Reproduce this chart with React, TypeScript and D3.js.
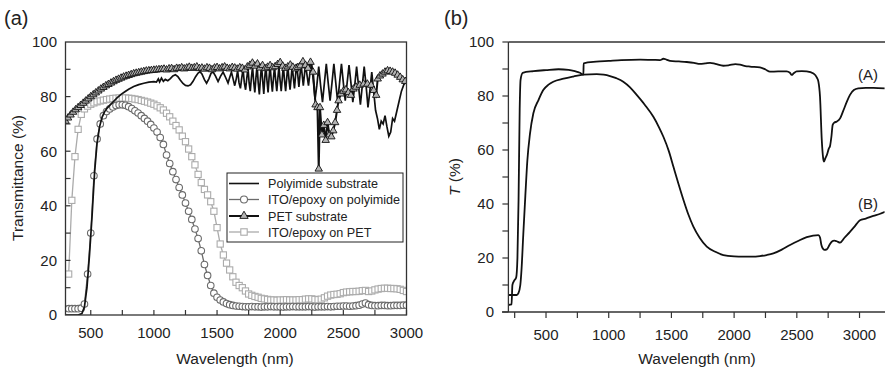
import React from 'react';
import * as d3 from 'd3';

const W = 885;
const H = 374;
const FONT = '"Liberation Sans", Arial, Helvetica, sans-serif';

// ---------- Panel (a) data ----------
const itoWl = [325,350,375,400,425,450,475,500,525,550,575,600,625,650,675,700,725,750,775,800,825,850,875,900,925,950,975,1000,1025,1050,1075,1100,1125,1150,1175,1200,1225,1250,1275,1300,1325,1350,1375,1400,1425,1450,1475,1500,1525,1550,1575,1600,1625,1650,1675,1700,1725,1750,1775,1800,1825,1850,1875,1900,1925,1950,1975,2000,2025,2050,2075,2100,2125,2150,2175,2200,2225,2250,2275,2300,2325,2350,2375,2400,2425,2450,2475,2500,2525,2550,2575,2600,2625,2650,2675,2700,2725,2750,2775,2800,2825,2850,2875,2900,2925,2950,2975,3000];

const itoPolyimideT = [2.3,2.3,2.3,2.3,2.5,4,15,30,51,64.5,70,73,74.5,75.5,76.2,76.7,77,77,76.8,76.3,75.6,74.8,74,73,72,71,69.8,68.5,67,65,62.5,58.6,55.5,52.5,49.6,46.7,44,41,38,35,31.5,28,23.5,18.5,14.5,10.8,8,6.5,5.5,4.8,4.2,3.8,3.5,3.3,3.2,3.1,
3.0,3.0,3.1,3.0,3.0,2.9,3.0,3.0,3.1,3.0,3.0,3.0,2.9,3.0,3.0,3.1,3.0,3.0,3.0,3.0,3.1,3.0,2.9,3.0,3.0,3.0,3.1,3.0,
3.1,3.2,3.2,3.3,3.3,3.2,3.3,3.4,
3.6,4.0,4.4,3.8,
3.5,3.4,3.4,3.5,3.5,3.4,3.4,3.5,3.5,3.5,3.6,3.6];

const itoPetT = [15,42,58,68,73.5,75.5,76.5,77.2,77.7,78.1,78.4,78.7,78.9,79.1,79.3,79.4,79.5,79.5,79.5,79.4,79.3,79.1,78.9,78.6,78.3,78,77.6,77.2,76.6,75.9,75.1,73.9,72.6,71,69.4,67.8,65.5,63.5,60.8,58,55,51.5,48.5,46,44,41.5,38,32,26,22,19,16.5,14,12,10.8,10,
8.8,7.7,7.2,6.8,6.5,6.1,5.9,5.7,
5.5,5.5,5.4,5.5,5.5,5.6,5.5,5.5,5.5,5.6,
5.6,5.8,5.9,5.9,5.7,5.6,5.8,6.3,6.9,7.3,
7.5,7.6,7.8,8.2,8.4,8.5,8.6,8.6,8.7,8.9,9.0,8.6,
8.8,9.2,9.5,9.7,9.8,9.8,9.7,9.7,9.6,9.4,9.0,8.6];

const polyimide: [number, number][] = [[300,0],[400,0],[430,0.5],[450,3],[470,10],[490,22],[510,36],[530,52],[550,63],[570,69],[590,72.5],[610,74.5],[630,75.8],[650,76.8],[680,78.2],[710,79.6],[740,80.8],[770,81.8],[800,82.7],[840,83.7],[880,84.4],[920,84.9],[960,85.3],[1000,85.5],[1020,85.3],[1035,86.5],[1045,85.4],[1060,86.8],[1075,85.6],[1090,86.3],[1110,85.8],[1130,86.6],[1150,87.6],[1170,88],[1190,87.3],[1210,86],[1230,84.8],[1250,84.1],[1270,83.9],[1290,84.3],[1310,85.6],[1330,87.3],[1350,88.6],[1365,89.1],[1380,88.3],[1400,86.2],[1417,84.9],[1435,86.5],[1452,88.5],[1469,89],[1488,87.5],[1508,85.5],[1528,87.5],[1548,89],[1568,87],[1587,85],[1600,87],[1614,89],[1627,86.5],[1640,84],[1652,86.5],[1663,89.5],[1674,85],[1685,83],[1696,87],[1706,90],[1716,85],[1726,82.5],[1736,87],[1745,90.5],[1754,85],[1763,82],[1772,87],[1781,91],[1790,85.5],[1799,81.5],[1808,87],[1817,91.5],[1826,85],[1835,80.8],[1844,87],[1852,91.5],[1861,86],[1870,81],[1878,87],[1886,91.5],[1895,86],[1904,81.5],[1912,87],[1920,91.5],[1929,86],[1938,81.8],[1947,87],[1955,91],[1964,86],[1973,82],[1982,87],[1990,91],[1999,86],[2008,82],[2017,87],[2025,91.5],[2034,86],[2043,82],[2052,87],[2060,91.5],[2069,86.5],[2078,82.5],[2087,87],[2095,91.5],[2104,87],[2113,83],[2122,88],[2130,92],[2139,88],[2148,83.5],[2157,88],[2165,92],[2174,88],[2183,84],[2192,88],[2200,92],[2212,88],[2224,84],[2236,89],[2248,92],[2262,86],[2276,79],[2290,84],[2305,91],[2320,84],[2335,78],[2350,85],[2365,92],[2380,85],[2395,78.5],[2410,85],[2425,92],[2440,85],[2455,78],[2470,85],[2485,92],[2500,85],[2515,78.5],[2530,85],[2545,91.5],[2560,85],[2575,78],[2590,84],[2605,91],[2620,84],[2635,77],[2650,84],[2665,91],[2680,84],[2695,76],[2710,82],[2725,89],[2740,82],[2755,75],[2770,72],[2785,68],[2800,71],[2815,70],[2830,73],[2845,69],[2860,65.5],[2875,67],[2890,72],[2905,71],[2920,74],[2940,78],[2960,82],[2980,84.5],[3000,85.5]];

const pet: [number, number][] = [[300,71],[320,72.2],[340,73.3],[360,74.3],[380,75.2],[400,76],[420,76.8],[440,77.6],[460,78.4],[480,79.2],[500,80],[520,80.7],[540,81.4],[560,82.1],[580,82.8],[600,83.4],[620,84],[640,84.5],[660,85],[680,85.5],[700,86],[720,86.4],[740,86.8],[760,87.2],[780,87.5],[800,87.8],[820,88.1],[840,88.4],[860,88.6],[880,88.8],[900,89],[920,89.2],[940,89.4],[960,89.5],[980,89.6],[1000,89.7],[1020,89.8],[1040,89.9],[1060,90],[1080,90.1],[1100,89.8],[1120,90.2],[1140,90.3],[1160,89.9],[1180,90.4],[1200,90.3],[1220,90.6],[1240,90.2],[1260,90.5],[1280,90.8],[1300,90.4],[1320,90.6],[1340,90.9],[1360,90.3],[1380,90.5],[1400,90.1],[1420,90.6],[1440,90.4],[1460,89.9],[1480,90.5],[1500,90.7],[1520,90.2],[1540,90.6],[1560,90.9],[1580,90.4],[1600,90.2],[1620,90.7],[1640,90.5],[1660,90.1],[1680,90.6],[1700,90.4],[1720,89.8],[1740,90.9],[1760,91.5],[1780,92.3],[1800,91.2],[1820,92],[1840,90.5],[1860,91.4],[1880,90.3],[1900,90.8],[1920,91.4],[1940,90.6],[1960,91],[1980,91.8],[2000,92.5],[2020,91.2],[2040,90.4],[2060,90.9],[2080,91.6],[2100,90.8],[2120,90.2],[2140,90.7],[2160,91.3],[2180,92.8],[2200,91.5],[2220,90.4],[2240,92.6],[2260,89],[2280,77],[2295,76],[2305,53.5],[2315,76],[2330,66],[2345,69.5],[2360,64],[2375,70.5],[2390,66],[2405,65.3],[2420,67.5],[2435,70.5],[2450,75],[2462,78.5],[2480,81],[2500,82],[2520,82.5],[2540,81.5],[2560,80.5],[2580,82.8],[2600,83.5],[2630,84.2],[2660,84.6],[2690,84.6],[2720,84.2],[2740,82.3],[2760,80.5],[2772,86.5],[2790,87.6],[2810,88.3],[2830,89],[2850,89.5],[2870,89.3],[2890,89],[2910,88.6],[2930,87.9],[2950,87.1],[2970,86.2],[2990,85.6]];

const legendLabels = ['Polyimide substrate', 'ITO/epoxy on polyimide', 'PET substrate', 'ITO/epoxy on PET'];
const aXTicks = [500, 1000, 1500, 2000, 2500, 3000];
const aXMinor = [500, 750, 1000, 1250, 1500, 1750, 2000, 2250, 2500, 2750, 3000];
const aYTicks = [0, 20, 40, 60, 80, 100];
const aYMinor = [10, 20, 30, 40, 50, 60, 70, 80, 90];

// ---------- Panel (b) data ----------
const curveA: [number, number][] = [[200,2.6],[225,2.8],[232,10],[245,11.5],[262,12.8],[272,20],[281,41.5],[290,75],[297,86],[314,88.6],[400,89.2],[500,89.6],[600,89.9],[680,89.7],[730,89.2],[770,88.6],[798,87.9],[800,92.1],[900,92.7],[1000,93],[1100,93.3],[1250,93.5],[1350,93.4],[1409,93.3],[1436,93.8],[1460,93.5],[1489,93],[1560,92.8],[1622,92.6],[1680,92.3],[1728,91.9],[1770,92.1],[1808,92.3],[1850,91.9],[1914,91.2],[1960,91.4],[2010,91.8],[2047,91.6],[2090,91.1],[2127,90.9],[2206,90.6],[2250,89.8],[2286,89],[2350,89.1],[2419,89.1],[2445,88.6],[2459,87.8],[2475,88.4],[2499,89.1],[2540,89.2],[2579,89.1],[2633,88.3],[2660,86.8],[2672,85.3],[2685,79.7],[2699,63.7],[2710,57],[2717,55.7],[2728,57],[2739,58.1],[2755,60.5],[2765,61.5],[2776,65],[2786,69.3],[2800,70.2],[2818,70.5],[2845,71.7],[2870,74.5],[2900,78],[2924,80.4],[2955,82.2],[2990,82.8],[3050,83],[3110,83],[3203,82.8]];

const curveB: [number, number][] = [[200,6.3],[266,6.3],[280,7],[295,10],[305,16],[319,29],[335,43],[351,56],[372,66],[399,73.6],[440,78.5],[478,82.2],[520,84.2],[558,85.3],[640,86.4],[718,87.2],[797,87.9],[904,88.1],[960,87.9],[1010,87.4],[1060,86.6],[1116,85.3],[1170,83.2],[1223,80.4],[1290,76.6],[1356,72.3],[1400,68.5],[1436,64.9],[1480,59.5],[1516,53.8],[1556,47.5],[1596,41.5],[1636,36],[1675,31.6],[1725,27.5],[1782,24.2],[1850,22.3],[1914,21.1],[2000,20.6],[2074,20.5],[2140,20.5],[2206,20.7],[2260,21.1],[2313,21.7],[2380,23.1],[2446,24.8],[2510,26.3],[2579,27.7],[2630,28.3],[2672,28.5],[2685,27.6],[2695,25],[2706,23.6],[2720,23],[2739,23.2],[2760,24.8],[2778,26],[2800,26.4],[2818,26.2],[2845,25.7],[2880,27.5],[2924,29.7],[2960,31.6],[2990,33.4],[3004,34],[3050,34.6],[3110,35.6],[3160,36.3],[3203,37.1]];

const bXTicks = [500, 1000, 1500, 2000, 2500, 3000];
const bXMinor = [250, 500, 750, 1000, 1250, 1500, 1750, 2000, 2250, 2500, 2750, 3000];
const bYTicks = [0, 20, 40, 60, 80, 100];
const bYMinor = [0, 10, 20, 30, 40, 50, 60, 70, 80, 90, 100];

const TXT = '#222';
const CIRCLE_C = '#6b6b6b';
const SQUARE_C = '#ababab';

export default function App() {
  const xL = d3.scaleLinear().domain([300, 3000]).range([65.5, 406.5]);
  const yL = d3.scaleLinear().domain([0, 100]).range([315, 42]);
  const xR = d3.scaleLinear().domain([200, 3200]).range([508.4, 884.6]);
  const yR = d3.scaleLinear().domain([0, 100]).range([312, 42]);

  const lineL = d3.line<[number, number]>().x(d => xL(d[0])).y(d => yL(d[1]));
  const lineR = d3.line<[number, number]>().x(d => xR(d[0])).y(d => yR(d[1])).curve(d3.curveMonotoneX);

  const circlesData: [number, number][] = itoWl.map((w, i) => [w, itoPolyimideT[i]]);
  const squaresData: [number, number][] = itoWl.map((w, i) => [w, itoPetT[i]]);
  const tri = d3.symbol().type(d3.symbolTriangle).size(24)() as string;
  const triLegend = d3.symbol().type(d3.symbolTriangle).size(30)() as string;

  const x0 = xL.range()[0], x1 = xL.range()[1];
  const y0 = yL.range()[0], y1 = yL.range()[1];

  const legX = 227, legY = 173, legW = 176, legH = 69;
  const legRows = [183.5, 199.5, 216, 232];

  return (
    <svg width={W} height={H} viewBox={`0 0 ${W} ${H}`} style={{ position: 'absolute', left: 0, top: 0, background: '#fff' }} fontFamily={FONT}>
      <defs>
        <clipPath id="clipA"><rect x={x0} y={y1} width={x1 - x0} height={y0 - y1} /></clipPath>
        <clipPath id="clipB"><rect x={xR.range()[0]} y={yR.range()[1]} width={xR.range()[1] - xR.range()[0]} height={yR.range()[0] - yR.range()[1]} /></clipPath>
      </defs>
      <rect x={0} y={0} width={W} height={H} fill="#fff" />

      {/* ===== Panel (a) ===== */}
      <text x={4} y={25} fontSize={20} fill={TXT}>(a)</text>
      <g clipPath="url(#clipA)">
        <path d={lineL(squaresData) || ''} fill="none" stroke={SQUARE_C} strokeWidth={1.3} />
        {squaresData.map((d, i) => (
          <rect key={'s' + i} x={xL(d[0]) - 3.1} y={yL(d[1]) - 3.1} width={6.2} height={6.2} fill="#fff" stroke={SQUARE_C} strokeWidth={1.1} />
        ))}
        <path d={lineL(circlesData) || ''} fill="none" stroke={CIRCLE_C} strokeWidth={1.3} />
        {circlesData.map((d, i) => (
          <circle key={'c' + i} cx={xL(d[0])} cy={yL(d[1])} r={3.3} fill="#fff" stroke={CIRCLE_C} strokeWidth={1.1} />
        ))}
        <path d={lineL(polyimide) || ''} fill="none" stroke="#111" strokeWidth={1.7} />
        <path d={lineL(pet) || ''} fill="none" stroke="#111" strokeWidth={2} />
        {pet.map((d, i) => (
          <path key={'t' + i} d={tri} transform={`translate(${xL(d[0])},${yL(d[1])})`} fill="#b3b3b3" stroke="#111" strokeWidth={0.9} />
        ))}
      </g>
      {/* frame */}
      <rect x={x0} y={y1} width={x1 - x0} height={y0 - y1} fill="none" stroke="#333" strokeWidth={1.3} />
      {aXMinor.map(t => (
        <line key={'ax' + t} x1={xL(t)} x2={xL(t)} y1={y0} y2={y0 - 5} stroke="#333" strokeWidth={1.2} />
      ))}
      {aYMinor.map(t => (
        <line key={'ay' + t} x1={x0} x2={x0 + 5} y1={yL(t)} y2={yL(t)} stroke="#333" strokeWidth={1.2} />
      ))}
      {aXTicks.map(t => (
        <text key={'axl' + t} x={xL(t)} y={337.5} fontSize={15} textAnchor="middle" fill={TXT}>{t}</text>
      ))}
      {aYTicks.map(t => (
        <text key={'ayl' + t} x={57} y={yL(t)} dy="0.36em" fontSize={15} textAnchor="end" fill={TXT}>{t}</text>
      ))}
      <text x={235} y={364} fontSize={15.5} textAnchor="middle" fill={TXT}>Wavelength (nm)</text>
      <text transform={`translate(23,178) rotate(-90)`} fontSize={15.5} textAnchor="middle" fill={TXT}>Transmittance (%)</text>

      {/* legend */}
      <rect x={legX} y={legY} width={legW} height={legH} fill="#fff" stroke="#222" strokeWidth={1} />
      <line x1={229} x2={259} y1={legRows[0]} y2={legRows[0]} stroke="#111" strokeWidth={1.6} />
      <line x1={229} x2={259} y1={legRows[1]} y2={legRows[1]} stroke={CIRCLE_C} strokeWidth={1.3} />
      <circle cx={244} cy={legRows[1]} r={3.5} fill="#fff" stroke={CIRCLE_C} strokeWidth={1.1} />
      <line x1={229} x2={259} y1={legRows[2]} y2={legRows[2]} stroke="#111" strokeWidth={2} />
      <path d={triLegend} transform={`translate(244,${legRows[2]})`} fill="#b3b3b3" stroke="#111" strokeWidth={0.9} />
      <line x1={229} x2={259} y1={legRows[3]} y2={legRows[3]} stroke={SQUARE_C} strokeWidth={1.3} />
      <rect x={244 - 3.2} y={legRows[3] - 3.2} width={6.4} height={6.4} fill="#fff" stroke={SQUARE_C} strokeWidth={1.1} />
      {legendLabels.map((l, i) => (
        <text key={'lg' + i} x={268} y={legRows[i]} dy="0.36em" fontSize={12.6} fill={TXT}>{l}</text>
      ))}

      {/* ===== Panel (b) ===== */}
      <text x={444} y={25} fontSize={20} fill={TXT}>(b)</text>
      <g clipPath="url(#clipB)">
        <path d={lineR(curveA) || ''} fill="none" stroke="#111" strokeWidth={1.8} />
        <path d={lineR(curveB) || ''} fill="none" stroke="#111" strokeWidth={1.8} />
      </g>
      <line x1={xR.range()[0]} x2={xR.range()[0]} y1={yR.range()[1]} y2={yR.range()[0]} stroke="#333" strokeWidth={1.3} />
      <line x1={502} x2={W} y1={yR.range()[0]} y2={yR.range()[0]} stroke="#333" strokeWidth={1.3} />
      <line x1={xR.range()[0]} x2={W} y1={yR.range()[1]} y2={yR.range()[1]} stroke="#333" strokeWidth={1.3} />
      {bXMinor.map(t => (
        <line key={'bx' + t} x1={xR(t)} x2={xR(t)} y1={yR.range()[0]} y2={yR.range()[0] + 6} stroke="#333" strokeWidth={1.2} />
      ))}
      {bYMinor.map(t => (
        <line key={'by' + t} x1={xR.range()[0] - 6} x2={xR.range()[0]} y1={yR(t)} y2={yR(t)} stroke="#333" strokeWidth={1.2} />
      ))}
      {bXTicks.map(t => (
        <text key={'bxl' + t} x={xR(t)} y={340} fontSize={15} textAnchor="middle" fill={TXT}>{t}</text>
      ))}
      {bYTicks.map(t => (
        <text key={'byl' + t} x={494} y={yR(t)} dy="0.36em" fontSize={15} textAnchor="end" fill={TXT}>{t}</text>
      ))}
      <text x={697} y={364} fontSize={15.5} textAnchor="middle" fill={TXT}>Wavelength (nm)</text>
      <text transform={`translate(460,177) rotate(-90)`} fontSize={15.5} textAnchor="middle" fill={TXT}>
        <tspan fontStyle="italic">T</tspan> (%)
      </text>
      <text x={868} y={75} dy="0.36em" fontSize={15} textAnchor="middle" fill={TXT}>(A)</text>
      <text x={868} y={204} dy="0.36em" fontSize={15} textAnchor="middle" fill={TXT}>(B)</text>
    </svg>
  );
}
